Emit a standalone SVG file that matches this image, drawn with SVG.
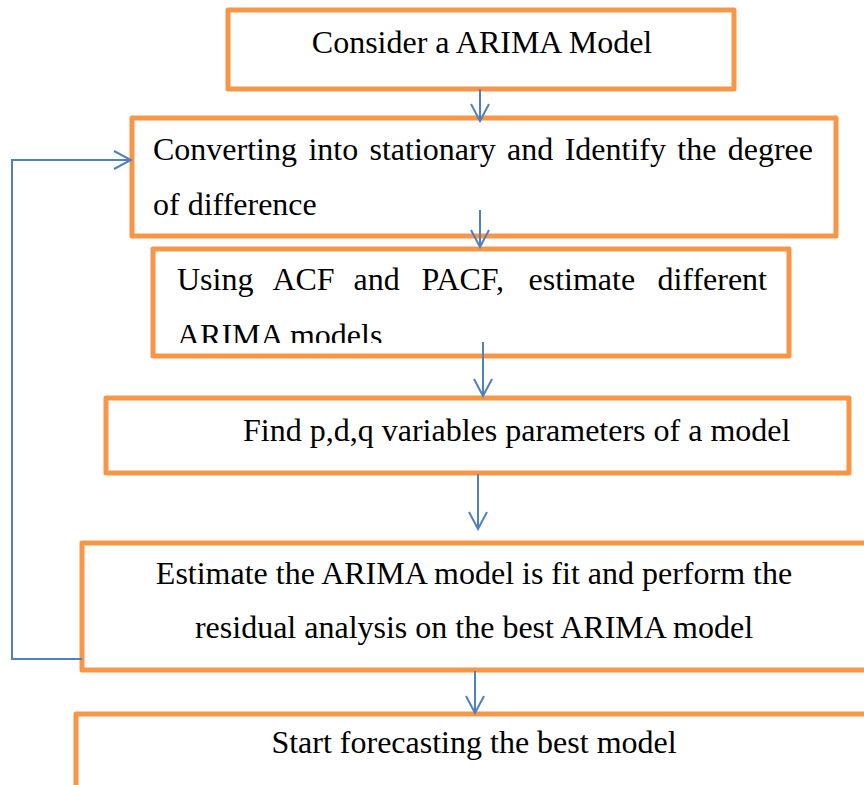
<svg xmlns="http://www.w3.org/2000/svg" width="864" height="785" viewBox="0 0 864 785">
  <style>
    .box { fill: #ffffff; stroke: #F79646; stroke-width: 5; stroke-linejoin: round; }
    .lbl { font-family: "Liberation Serif", "Times New Roman", serif; font-size: 32px; fill: #000000; }
    .mid { text-anchor: middle; }
    .end { text-anchor: end; }
    .wire { fill: none; stroke: #4F81BD; stroke-width: 2; }
  </style>
  <defs>
    <marker id="vhead" viewBox="0 0 20 20" refX="18" refY="10" markerWidth="20" markerHeight="20" markerUnits="userSpaceOnUse" orient="auto">
      <path d="M1 1 L18 10 L1 19" fill="none" stroke="#4F81BD" stroke-width="2"/>
    </marker>
    <clipPath id="clip-acf">
      <rect x="150" y="246" width="645" height="97"/>
    </clipPath>
  </defs>
  <rect width="864" height="785" fill="#ffffff"/>

  <g id="node-consider">
    <rect class="box" x="228" y="10" width="506" height="79"/>
    <text class="lbl mid" x="482" y="53">Consider a ARIMA Model</text>
  </g>

  <g id="node-stationary">
    <rect class="box" x="132" y="118" width="704" height="118"/>
    <!-- justified first line, one word per tspan -->
    <text class="lbl" y="160"><tspan x="153">Converting</tspan></text>
    <text class="lbl mid" y="160"><tspan x="333.3">into</tspan><tspan x="432.6">stationary</tspan><tspan x="530.2">and</tspan><tspan x="615.3">Identify</tspan><tspan x="696.8">the</tspan></text>
    <text class="lbl end" y="160"><tspan x="813">degree</tspan></text>
    <text class="lbl" x="153" y="215">of difference</text>
  </g>

  <g id="node-acf">
    <rect class="box" x="153" y="249" width="636" height="107"/>
    <text class="lbl" y="290"><tspan x="177">Using</tspan></text>
    <text class="lbl mid" y="290"><tspan x="303.5">ACF</tspan><tspan x="376.7">and</tspan><tspan x="462.8">PACF,</tspan><tspan x="581.8">estimate</tspan></text>
    <text class="lbl end" y="290"><tspan x="767">different</tspan></text>
    <text class="lbl" x="177" y="346" clip-path="url(#clip-acf)">ARIMA models</text>
  </g>

  <g id="node-pdq">
    <rect class="box" x="106" y="398" width="743" height="75"/>
    <text class="lbl" x="243" y="441">Find p,d,q variables parameters of a model</text>
  </g>

  <g id="node-fit">
    <rect class="box" x="82" y="543" width="800" height="127"/>
    <text class="lbl mid" x="474" y="584">Estimate the ARIMA model is fit and perform the</text>
    <text class="lbl mid" x="474" y="638">residual analysis on the best ARIMA model</text>
  </g>

  <g id="node-forecast">
    <rect class="box" x="76" y="714" width="806" height="100"/>
    <text class="lbl mid" x="474" y="753">Start forecasting the best model</text>
  </g>

  <g id="connectors">
    <path class="wire" d="M480 89 V121" marker-end="url(#vhead)"/>
    <path class="wire" d="M480 210 V247" marker-end="url(#vhead)"/>
    <path class="wire" d="M483 342 V396" marker-end="url(#vhead)"/>
    <path class="wire" d="M478 474 V529" marker-end="url(#vhead)"/>
    <path class="wire" d="M475 671 V713" marker-end="url(#vhead)"/>
    <path class="wire" d="M82 659 H12 V160 H131" marker-end="url(#vhead)"/>
  </g>
</svg>
